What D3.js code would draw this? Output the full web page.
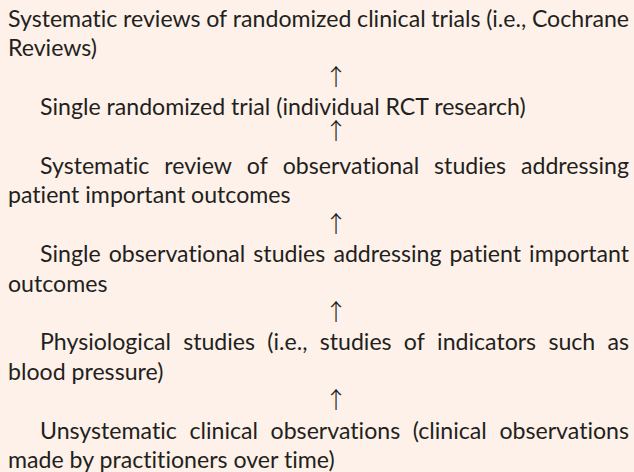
<!DOCTYPE html>
<html><head><meta charset="utf-8">
<script src="https://cdn.jsdelivr.net/npm/d3@7"></script>
<style>html,body{margin:0;padding:0;background:#fdf1e9;} svg{display:block} text{font-variant-ligatures:none;font-feature-settings:"liga" 0,"clig" 0,"dlig" 0;}</style>
</head><body>
<svg id="c" width="634" height="472"></svg>
<script>
// Evidence hierarchy, top (strongest) to bottom, as lines of text
const level1 = ["Systematic reviews of randomized clinical trials (i.e., Cochrane", "Reviews)"];
const level2 = ["Single randomized trial (individual RCT research)"];
const level3 = ["Systematic review of observational studies addressing", "patient important outcomes"];
const level4 = ["Single observational studies addressing patient important", "outcomes"];
const level5 = ["Physiological studies (i.e., studies of indicators such as", "blood pressure)"];
const level6 = ["Unsystematic clinical observations (clinical observations", "made by practitioners over time)"];
const levels = [level1, level2, level3, level4, level5, level6];
const arrowSymbol = "\u2191";

const W = 634, H = 472;
const svg = d3.select("#c");
svg.append("rect").attr("width", W).attr("height", H).attr("fill", "#fdf1e9");

const FONT = "Lato, 'Noto Sans', sans-serif";
const left = 8, right = 629, indent = 32;

// Fit font size to the reference width of the single-line paragraph
const probe = svg.append("text").attr("font-family", FONT).attr("font-size", 20).text(level2[0]);
const fs = 20 * 486 / probe.node().getComputedTextLength();
probe.remove();

// build rows (slots)
const rows = [];
levels.forEach((lines, li) => {
  lines.forEach((t, k) => rows.push({type: "text", text: t, level: li, first: k === 0, last: k === lines.length - 1}));
  if (li < levels.length - 1) rows.push({type: "arrow", level: li});
});
const y = d3.scaleLinear().domain([0, rows.length - 1]).range([27, 468]);

const g = svg.append("g").attr("fill", "#231f20");

rows.forEach((r, i) => {
  if (r.type === "arrow") {
    const adj = (r.level === 1) ? -6 : -1;
    g.append("text").attr("x", 336).attr("y", y(i) + adj)
      .attr("text-anchor", "middle").attr("font-family", "'Noto Sans CJK JP', sans-serif")
      .attr("font-weight", 300)
      .attr("font-size", 23).text(arrowSymbol);
    return;
  }
  const x0 = left + ((r.first && r.level > 0) ? indent : 0);
  const t = g.append("text").attr("y", y(i)).attr("font-family", FONT).attr("font-size", fs);
  if (r.last) {
    t.attr("x", x0).text(r.text);
  } else {
    const words = r.text.split(" ");
    const widths = words.map(w => {
      const p = svg.append("text").attr("font-family", FONT).attr("font-size", fs).text(w);
      const wd = p.node().getComputedTextLength(); p.remove(); return wd;
    });
    const gap = (right - x0 - d3.sum(widths)) / (words.length - 1);
    let x = x0;
    words.forEach((w, j) => {
      t.append("tspan").attr("x", x).text(w + (j < words.length - 1 ? " " : ""));
      x += widths[j] + gap;
    });
  }
});
</script>
</body></html>
